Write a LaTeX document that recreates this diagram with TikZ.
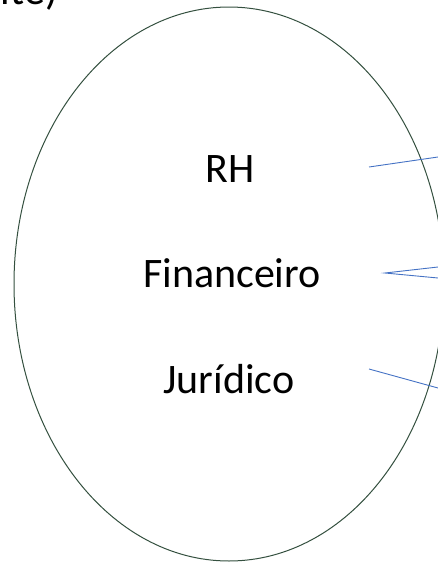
\documentclass[tikz,border=0pt]{standalone}
\usepackage{fontspec}
\setmainfont{Carlito}
\definecolor{ringcol}{HTML}{34503F}
\definecolor{linkblue}{HTML}{4472C4}
\tikzset{
  label text/.style={font=\fontsize{42}{50}\selectfont, text=black, inner sep=0pt, anchor=base},
  ring/.style={draw=ringcol, line width=1pt},
  link/.style={draw=linkblue, line width=0.9pt}
}
\begin{document}
\begin{tikzpicture}[x=1pt,y=-1pt]
\useasboundingbox (0,0) rectangle (438,563);
\clip (0,0) rectangle (438,563);
\node[label text, anchor=base east] (top) at (58,4) {ite)};
\draw[ring] (229,284) ellipse [x radius=215, y radius=277];
\node[label text] (rh) at (230,182) {RH};
\node[label text] (fin) at (232,287) {Financeiro};
\node[label text] (jur) at (229,393) {Jurídico};
\coordinate (rhs) at (369,167);
\coordinate (rhe) at (438,157);
\coordinate (fins) at (385,273);
\coordinate (fine1) at (438,267);
\coordinate (fine2) at (438,278);
\coordinate (jurs) at (369,369);
\coordinate (jure) at (438,388);
\draw[link] (rhs) -- (rhe);
\draw[link] (fine1) -- (fins) -- (fine2);
\draw[link] (jurs) -- (jure);
\end{tikzpicture}
\end{document}
